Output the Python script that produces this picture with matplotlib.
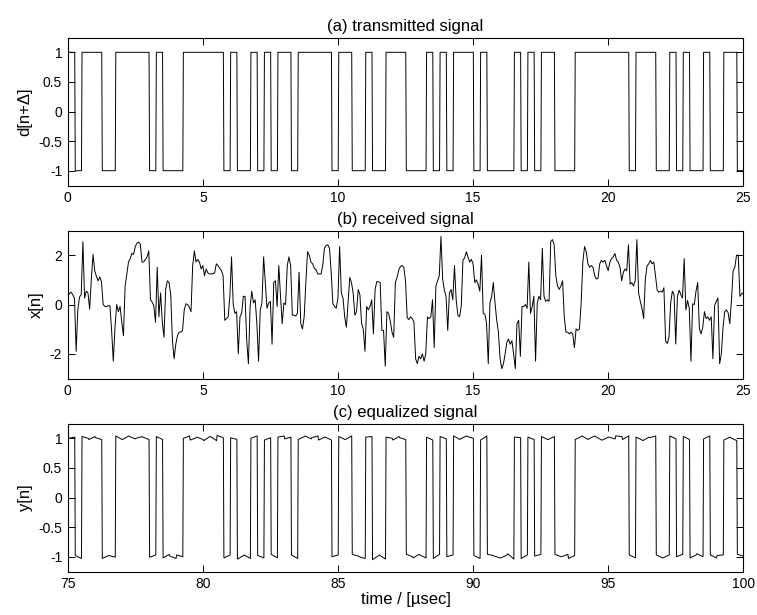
import numpy as np
import matplotlib
matplotlib.use("Agg")
import matplotlib.pyplot as plt

plt.rcParams["font.family"] = ["Liberation Sans", "DejaVu Sans"]
plt.rcParams["font.size"] = 10

# transmitted symbols d[n+Delta], one per 0.25 usec (100 symbols over 25 usec)
high_symbols = [0, 2, 3, 4, 7, 8, 9, 10, 11, 13, 17, 18, 19, 20, 21, 22, 24, 27, 29,
                31, 32, 34, 35, 36, 37, 38, 40, 41, 44, 47, 48, 49, 53, 55, 57, 58, 59,
                61, 66, 68, 70, 71, 75, 76, 77, 78, 79, 80, 81, 82, 84, 85, 86, 89, 91,
                94, 97, 98]
n_symbols = 100
symbol_period = 0.25

# received signal x[n], sampled every 0.0625 usec from 0 to 25
received = [
    0.33, 0.44, 0.5, 0.4, 0.26, -1.9, -0.2, 0.3, 0.4, 2.55,
    0.26, 0.54, 0.47, -0.19, 1.03, 2.03, 1.37, 1.14, 0.96, 1.12,
    0.92, 0.0, -0.08, -0.08, -0.05, -0.05, -1.05, -2.3, -0.92, 0.0,
    -0.29, -0.08, -0.7, -1.26, 0.75, 1.24, 1.72, 1.86, 2.07, 2.03,
    2.35, 2.49, 2.53, 2.44, 1.72, 1.72, 1.83, 1.93, 2.17, 0.19,
    0.1, -0.05, -0.72, 1.51, -0.5, 0.47, -0.7, -1.33, 0.61, 0.96,
    0.89, 0.4, -1.47, -2.2, -1.61, -1.26, -1.12, -1.12, -1.05, -0.22,
    0.03, 0.0, -0.11, -0.29, 1.58, 2.17, 1.72, 1.83, 1.72, 1.44,
    1.58, 1.17, 1.44, 1.28, 1.24, 1.24, 1.24, 1.28, 1.65, 1.58,
    1.47, 1.37, 1.17, -0.64, -0.57, -0.5, 0.33, 1.93, 0.0, -0.36,
    -0.29, -2.0, -0.5, -0.36, 0.33, 0.33, -1.47, -2.4, -0.08, 0.54,
    0.06, 0.19, -0.78, -2.3, -0.22, 0.06, 1.93, 0.89, -0.15, 0.06,
    0.13, -1.61, 0.89, 0.96, -0.08, 1.58, 0.33, -0.78, 0.06, 0.0,
    1.58, 1.93, 1.58, -0.43, -0.43, -0.47, -0.36, 1.31, -0.78, -0.99,
    -0.5, 0.89, 2.14, 2.0, 1.72, 1.65, 1.47, 1.42, 1.24, 1.24,
    1.24, 1.58, 2.28, 2.39, 2.42, 2.28, 1.31, 0.03, -0.08, -0.15,
    0.26, 2.35, 0.47, 0.26, -0.5, -0.92, 0.06, 1.1, 0.89, 0.47,
    -0.43, -0.29, 0.61, 0.4, -0.78, -0.99, -1.9, -0.08, -0.22, -0.08,
    0.19, -1.19, 0.61, 0.93, 0.92, 0.89, -1.05, -1.05, -2.5, -0.29,
    -0.36, -0.67, -1.12, -1.33, 0.89, 1.1, 1.4, 1.54, 1.58, 1.51,
    0.96, -0.53, -0.61, -0.5, -0.57, -0.71, -2.2, -2.4, -2.1, -2.2,
    -2.0, -2.3, -2.0, -0.5, -0.57, -0.5, 0.19, -1.75, 0.75, 0.96,
    1.17, 2.76, 1.03, 0.58, 0.33, -1.05, 0.47, 0.61, 0.19, 1.58,
    0.19, -0.43, -0.5, -0.08, 1.79, 1.89, 2.14, 1.93, 1.72, 1.83,
    1.65, 0.89, 1.0, 0.82, 0.54, 2.0, -0.36, -0.39, -0.78, -2.4,
    0.06, 0.33, 0.89, 0.06, -0.64, -1.12, -2.2, -2.6, -2.4, -2.0,
    -1.54, -1.4, -1.61, -1.47, -2.0, -2.6, -0.78, -0.64, -2.1, -0.08,
    -0.08, 0.0, -0.15, 1.72, -0.36, -0.08, 0.33, -2.3, 0.06, 0.33,
    0.19, 2.28, 0.33, 0.13, 0.19, 0.13, 2.56, 2.63, 2.42, 1.17,
    0.75, 0.61, 0.75, 0.96, -0.5, -1.12, -1.12, -1.19, -1.12, -1.19,
    -1.75, -0.99, -1.05, -0.99, 0.06, 1.72, 2.35, 2.14, 1.65, 1.51,
    1.58, 1.51, 1.17, 1.03, 1.07, 1.65, 1.79, 1.72, 1.79, 1.58,
    1.37, 1.72, 1.86, 1.93, 2.07, 1.79, 1.72, 1.51, 0.96, 1.31,
    1.44, 1.37, 2.42, 0.82, 0.89, 0.75, 0.96, 2.63, 0.47, 0.13,
    -0.15, -0.57, 1.03, 1.56, 1.65, 1.79, 1.65, 1.72, 1.17, 0.58,
    0.5, 0.54, 0.5, 0.68, -1.47, -1.58, -1.33, 0.06, 0.54, 0.4,
    -1.6, 0.33, 0.58, 0.4, 0.26, 1.86, -0.22, 0.17, -0.15, -2.3,
    0.03, 0.0, 0.54, 0.89, -0.99, -1.19, -0.92, -0.29, -0.57, -0.5,
    -0.64, -0.5, -2.2, -0.05, 0.13, 0.26, -2.4, -2.0, -0.92, -0.29,
    -0.22, -0.33, -0.78, 0.19, 1.37, 1.51, 2.0, 2.0, 0.33, 0.44,
    0.47,
]
received_step = 0.0625

# equalizer output ripple around the symbol levels (start / end of each symbol)
eq_ripple_start = [
    0.0, 0.02, 0.03, -0.02, 0.01, -0.03, 0.02, 0.04, -0.02, 0.03, 0.0, 0.02,
    -0.01, 0.03, -0.02, 0.01, 0.03, 0.0, -0.03, 0.02, -0.04, 0.03, 0.05, -0.02,
    0.01, -0.04, 0.03, 0.0, 0.02, -0.03, 0.04, 0.02, -0.01, 0.03, -0.02, 0.04,
    0.01, -0.03, 0.02, 0.0, 0.03, -0.02, 0.04, 0.0, 0.02, -0.05, 0.03, 0.02,
    -0.03, 0.01, 0.04, -0.02, 0.03, 0.02, -0.03, 0.03, 0.0, 0.04, -0.01, 0.03,
    0.02, -0.03, 0.04, 0.01, -0.02, 0.05, 0.02, -0.03, 0.02, 0.01, 0.03, -0.02,
    0.04, 0.0, -0.03, -0.02, 0.04, -0.01, 0.03, -0.03, 0.02, 0.04, -0.02, 0.03,
    0.02, -0.04, 0.01, 0.03, -0.02, 0.04, 0.0, 0.03, -0.02, 0.05, -0.01, 0.03,
    0.02, -0.03, 0.01, 0.04,
]
eq_ripple_end = [
    0.02, -0.03, 0.0, 0.03, -0.02, 0.02, -0.01, -0.02, 0.04, -0.01, 0.03, -0.02,
    0.03, -0.02, 0.04, -0.03, 0.0, 0.04, 0.01, -0.02, 0.03, -0.04, 0.01, 0.03,
    -0.02, 0.02, -0.03, 0.04, -0.02, 0.01, -0.02, 0.04, 0.02, -0.03, 0.03, -0.01,
    0.04, 0.02, -0.03, 0.03, -0.02, 0.04, 0.01, -0.03, 0.03, 0.02, -0.04, 0.0,
    0.03, -0.02, 0.0, 0.04, -0.02, -0.03, 0.04, -0.01, 0.03, -0.02, 0.04, 0.0,
    -0.03, 0.04, 0.02, -0.02, 0.03, -0.04, 0.01, 0.03, -0.02, 0.04, -0.02, 0.03,
    0.0, 0.04, 0.02, 0.03, -0.02, 0.04, -0.03, 0.02, -0.01, 0.03, 0.04, -0.02,
    -0.03, 0.02, 0.04, -0.02, 0.03, -0.01, 0.04, -0.02, 0.03, 0.0, 0.04, -0.02,
    0.03, 0.02, -0.04, 0.01,
]
eq_time_offset = 75.0

symbols = -np.ones(n_symbols)
symbols[high_symbols] = 1.0

# two points per symbol: start and end of the flat part
k = np.arange(n_symbols)
t_sym = np.column_stack([k * symbol_period + 0.03, k * symbol_period + 0.26]).ravel()
d_sig = np.repeat(symbols, 2)
y_sig = np.column_stack([symbols + np.array(eq_ripple_start),
                         symbols + np.array(eq_ripple_end)]).ravel()
t_rx = np.arange(len(received)) * received_step

W, H = 757, 615
fig = plt.figure(figsize=(W / 100, H / 100), dpi=100)
left, width, height = 67.7 / W, 675.6 / W, 148 / H
ax_a = fig.add_axes([left, (H - 37.5 - 148) / H, width, height])
ax_b = fig.add_axes([left, (H - 230.5 - 148) / H, width, height])
ax_c = fig.add_axes([left, (H - 423.5 - 148) / H, width, height])

lw = 0.7
ax_a.plot(t_sym, d_sig, color="black", lw=lw)
ax_a.set_xlim(0, 25)
ax_a.set_ylim(-1.25, 1.25)
ax_a.set_yticks([-1, -0.5, 0, 0.5, 1])
ax_a.set_yticklabels(["-1", "-0.5", "0", "0.5", "1"])
ax_a.set_ylabel("d[n+\u0394]", fontsize=12)
ax_a.set_title("(a) transmitted signal", fontsize=12, pad=5)

ax_b.plot(t_rx, received, color="black", lw=lw)
ax_b.set_xlim(0, 25)
ax_b.set_ylim(-3, 3)
ax_b.set_yticks([-2, 0, 2])
ax_b.set_yticklabels(["-2", "0", "2"])
ax_b.set_ylabel("x[n]", fontsize=12)
ax_b.set_title("(b) received signal", fontsize=12, pad=5)

ax_c.plot(t_sym + eq_time_offset, y_sig, color="black", lw=lw)
ax_c.set_xlim(75, 100)
ax_c.set_ylim(-1.25, 1.25)
ax_c.set_yticks([-1, -0.5, 0, 0.5, 1])
ax_c.set_yticklabels(["-1", "-0.5", "0", "0.5", "1"])
ax_c.set_ylabel("y[n]", fontsize=12)
ax_c.set_xlabel("time / [\u00b5sec]", fontsize=12, labelpad=1)
ax_c.set_title("(c) equalized signal", fontsize=12, pad=5)

for ax in (ax_a, ax_b, ax_c):
    ax.set_xticks(np.arange(ax.get_xlim()[0], ax.get_xlim()[1] + 0.1, 5))
    ax.tick_params(direction="in", length=4.8, width=0.7, top=True, right=True,
                   labelsize=10, pad=4)
    for s in ax.spines.values():
        s.set_linewidth(0.8)

fig.savefig("out.png", dpi=100)
